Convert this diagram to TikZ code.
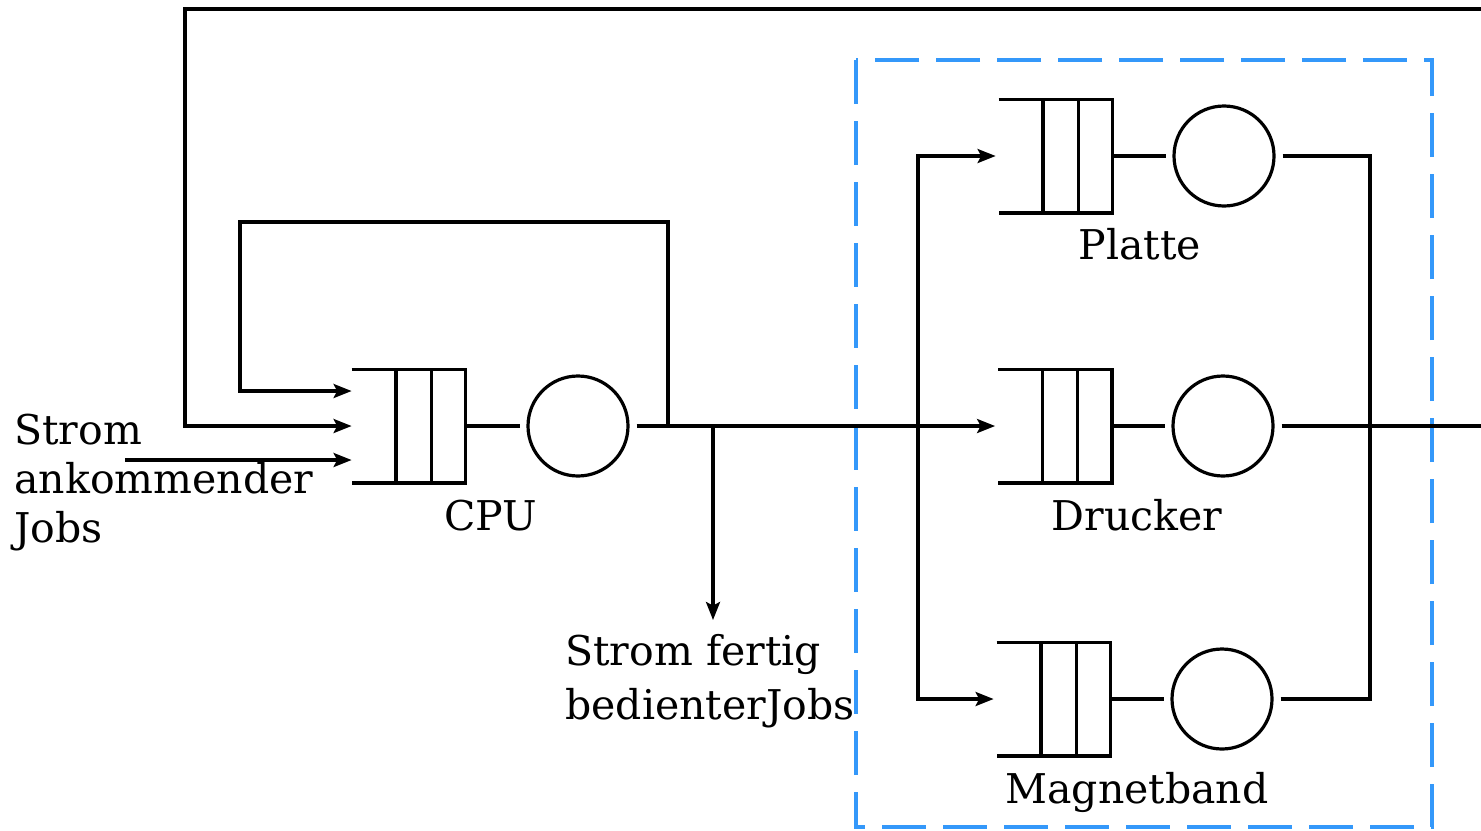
\documentclass[tikz,border=0pt]{standalone}
\usepackage{fontspec}
\setmainfont{DejaVu Serif}
\usetikzlibrary{arrows.meta,calc}
\definecolor{boxblue}{RGB}{52,152,250}
\tikzset{
  line/.style={line width=1.6pt, line join=miter},
  arr/.style={line width=1.6pt, -{Stealth[length=9pt,width=7pt,inset=1.8pt]}},
  qnode/.style={rectangle, draw=none, inner sep=0pt, minimum width=56.5pt, minimum height=56.5pt},
  server/.style={circle, draw, line width=1.6pt, inner sep=0pt, minimum size=50pt},
  lbl/.style={inner sep=0pt, font=\fontsize{20.5pt}{24pt}\selectfont},
  bluebox/.style={draw=boxblue, line width=2.3pt, dash pattern=on 22pt off 8.5pt}
}
\newcommand\myqueue[3]{%
  \node[qnode] (#1) at (#2,#3) {};
  \draw[line] (#1.north west) -- (#1.north east) -- (#1.south east) -- (#1.south west);
  \draw[line] ($(#1.north west)!0.39!(#1.north east)$) -- ($(#1.south west)!0.39!(#1.south east)$);
  \draw[line] ($(#1.north west)!0.70!(#1.north east)$) -- ($(#1.south west)!0.70!(#1.south east)$);
}
\begin{document}
\begin{tikzpicture}[x=0.5pt,y=-0.5pt]
\useasboundingbox (0,0) rectangle (1481,830);

% blue dashed subsystem box
\draw[bluebox] (856,60) rectangle (1432,827);

% queues and servers
\myqueue{cpuq}{408.5}{426}
\node[server] (cpus) at (578,426) {};
\myqueue{platq}{1055.5}{156}
\node[server] (plats) at (1224,156) {};
\myqueue{druq}{1055}{426}
\node[server] (drus) at (1223,426) {};
\myqueue{magq}{1053.5}{699}
\node[server] (mags) at (1222,699) {};

% queue -> server
\draw[line, shorten >=3pt] (cpuq.east) -- (cpus.west);
\draw[line, shorten >=3pt] (platq.east) -- (plats.west);
\draw[line, shorten >=3pt] (druq.east) -- (drus.west);
\draw[line, shorten >=3pt] (magq.east) -- (mags.west);

% coordinates
\coordinate (loopstart) at (668,426);
\coordinate (split) at (713,426);
\coordinate (fork) at (918,426);
\coordinate (il) at (240,222);
\coordinate (tl) at (185,9);
\coordinate (enterR) at (1481,9);
\coordinate (exitR) at (1481,426);
\coordinate (inc) at (125,460);
\coordinate (doneend) at (713,620);
\coordinate (join) at (1370,426);

% CPU output
\draw[line, shorten <=3.5pt] (cpus.east) -- (fork);
\draw[arr] (split) -- (doneend);
\draw[arr] (loopstart) |- (il) |- ($(cpuq.west)+(0,-35)$);
\draw[arr] (enterR) -- (tl) |- (cpuq.west);
\draw[arr] (inc) -- ($(cpuq.west)+(0,34)$);

% distribution to devices
\draw[arr] (fork) |- ($(platq.west)+(-3,0)$);
\draw[arr] (fork) -- ($(druq.west)+(-3,0)$);
\draw[arr] (fork) |- ($(magq.west)+(-3,0)$);

% device outputs
\draw[line, shorten <=3.5pt] (plats.east) -| (join);
\draw[line, shorten <=3.5pt] (mags.east) -| (join);
\draw[line, shorten <=3.5pt] (drus.east) -- (exitR);

% labels
\node[lbl, anchor=base west] (inlbl) at (14,444)
  {\vtop{\baselineskip=24.7pt\relax\hbox{Strom}\hbox{ankommender}\hbox{Jobs}}};
\node[lbl, anchor=base] (cpulbl) at (491,530) {CPU};
\node[lbl, anchor=base west] (outlbl) at (565,665)
  {\vtop{\baselineskip=27pt\relax\hbox{Strom fertig}\hbox{bedienterJobs}}};
\node[lbl, anchor=base] (platlbl) at (1140,259) {Platte};
\node[lbl, anchor=base] (drulbl) at (1137,530) {Drucker};
\node[lbl, anchor=base] (maglbl) at (1137,803) {Magnetband};
\end{tikzpicture}
\end{document}
